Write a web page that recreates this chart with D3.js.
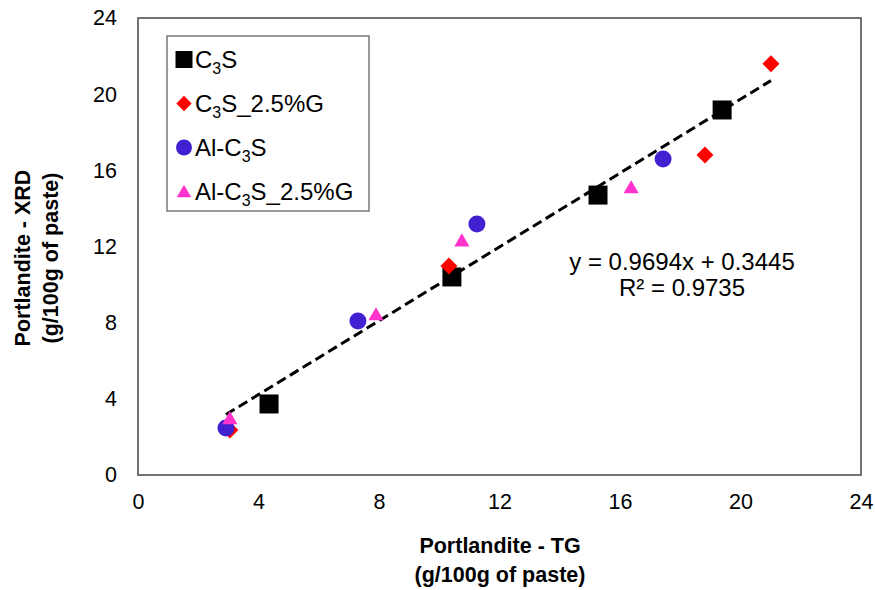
<!DOCTYPE html>
<html>
<head>
<meta charset="utf-8">
<script src="https://cdn.jsdelivr.net/npm/d3@7"></script>
<style>
  body { margin: 0; background: #fff; }
  text { font-family: "Liberation Sans", Arial, sans-serif; fill: #000; }
</style>
</head>
<body>
<div id="chart"></div>
<script>
// Data (TG vs XRD, g/100g of paste)
const c3sX = [4.35, 10.42, 15.27, 19.39];
const c3sY = [3.73, 10.4, 14.7, 19.17];
const c3sGX = [3.05, 10.32, 18.82, 21.01];
const c3sGY = [2.36, 10.98, 16.8, 21.6];
const alX = [2.92, 7.3, 11.25, 17.43];
const alY = [2.47, 8.09, 13.18, 16.6];
const alGX = [3.05, 7.9, 10.75, 16.37];
const alGY = [3.0, 8.46, 12.34, 15.13];
const tickValues = [0, 4, 8, 12, 16, 20, 24];
const slope = 0.9694, intercept = 0.3445, r2 = 0.9735;

const width = 875, height = 590;
const margin = { top: 18, right: 14, bottom: 115, left: 138 };
const innerW = width - margin.left - margin.right;
const innerH = height - margin.top - margin.bottom;

const svg = d3.select("#chart").append("svg")
  .attr("width", width)
  .attr("height", height);

const g = svg.append("g")
  .attr("transform", `translate(${margin.left},${margin.top})`);

const x = d3.scaleLinear().domain([0, 24]).range([0, innerW]);
const y = d3.scaleLinear().domain([0, 24]).range([innerH, 0]);

// axes (no tick marks, labels only)
const xAxis = g.append("g")
  .attr("transform", `translate(0,${innerH})`)
  .call(d3.axisBottom(x).tickValues(tickValues).tickSize(0).tickPadding(19));
const yAxis = g.append("g")
  .call(d3.axisLeft(y).tickValues(tickValues).tickSize(0).tickPadding(21));
[xAxis, yAxis].forEach(a => {
  a.select(".domain").remove();
  a.attr("font-size", null).attr("font-family", null);
  a.selectAll("text").style("font-size", "21.5px");
});

// plot frame
g.append("rect")
  .attr("width", innerW)
  .attr("height", innerH)
  .attr("fill", "none")
  .attr("stroke", "#656565")
  .attr("stroke-width", 1.8);

// trendline over data x-range
const allX = c3sX.concat(c3sGX, alX, alGX);
const xMin = d3.min(allX), xMax = d3.max(allX);
g.append("line")
  .attr("x1", x(xMin)).attr("y1", y(slope * xMin + intercept))
  .attr("x2", x(xMax)).attr("y2", y(slope * xMax + intercept))
  .attr("stroke", "#000")
  .attr("stroke-width", 3)
  .attr("stroke-dasharray", "10,5");

const series = [
  { name: ["C", "3", "S"], xs: c3sX, ys: c3sY, type: d3.symbolSquare, size: 361, leg: 289, color: "#000000" },
  { name: ["C", "3", "S_2.5%G"], xs: c3sGX, ys: c3sGY, type: d3.symbolDiamond2, size: 185, leg: 150, color: "#ff0000" },
  { name: ["Al-C", "3", "S"], xs: alX, ys: alY, type: d3.symbolCircle, size: 227, leg: 201, color: "#4220d2" },
  { name: ["Al-C", "3", "S_2.5%G"], xs: alGX, ys: alGY, type: d3.symbolTriangle2, size: 165, leg: 150, color: "#ff33cc" }
];

series.forEach(s => {
  g.selectAll(null)
    .data(s.xs.map((v, i) => [v, s.ys[i]]))
    .enter().append("path")
    .attr("d", d3.symbol().type(s.type).size(s.size))
    .attr("transform", d => `translate(${x(d[0])},${y(d[1]) + (s.type === d3.symbolTriangle2 ? 2 : 0)})`)
    .attr("fill", s.color);
});

// legend
const legend = svg.append("g").attr("transform", "translate(167,36)");
legend.append("rect")
  .attr("width", 202).attr("height", 175)
  .attr("fill", "#fff")
  .attr("stroke", "#656565")
  .attr("stroke-width", 1.3);

series.forEach((s, i) => {
  const row = legend.append("g").attr("transform", `translate(0,${23.5 + i * 44})`);
  row.append("path")
    .attr("d", d3.symbol().type(s.type).size(s.leg))
    .attr("transform", `translate(17,${s.type === d3.symbolTriangle2 ? 1.5 : 0})`)
    .attr("fill", s.color);
  const t = row.append("text")
    .attr("x", 28).attr("y", 8.5)
    .style("font-size", "24px");
  t.append("tspan").text(s.name[0]);
  t.append("tspan").attr("dy", 6).style("font-size", "16px").text(s.name[1]);
  t.append("tspan").attr("dy", -6).text(s.name[2]);
});

// equation
const eq = svg.append("text")
  .attr("text-anchor", "middle")
  .style("font-size", "24px");
eq.append("tspan").attr("x", 682).attr("y", 270).text(`y = ${slope}x + ${intercept}`);
eq.append("tspan").attr("x", 682).attr("y", 296).text(`R² = ${r2}`);

// axis titles
const xt = svg.append("text")
  .attr("text-anchor", "middle")
  .style("font-size", "21.5px")
  .style("font-weight", "bold");
xt.append("tspan").attr("x", 500).attr("y", 553).text("Portlandite - TG");
xt.append("tspan").attr("x", 500).attr("y", 582).text("(g/100g of paste)");

const yt = svg.append("text")
  .attr("text-anchor", "middle")
  .attr("transform", "translate(0,258) rotate(-90)")
  .style("font-size", "21.5px")
  .style("font-weight", "bold");
yt.append("tspan").attr("x", 0).attr("y", 30).text("Portlandite - XRD");
yt.append("tspan").attr("x", 0).attr("y", 58).text("(g/100g of paste)");
</script>
</body>
</html>
